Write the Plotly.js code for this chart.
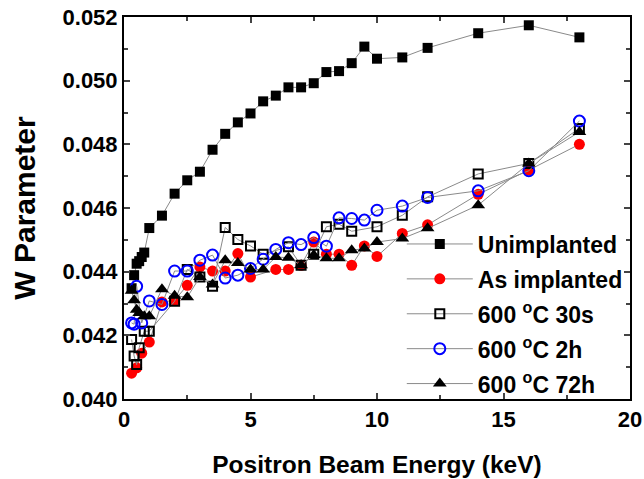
<!DOCTYPE html>
<html><head><meta charset="utf-8">
<script src="https://cdn.plot.ly/plotly-3.0.1.min.js"></script>
<style>body{margin:0;background:#fff}#c{width:644px;height:479px}</style>
</head><body><div id="c"></div>
<script>
const names = ["Unimplanted", "As implanted", "600 <sup>o</sup>C 30s", "600 <sup>o</sup>C 2h", "600 <sup>o</sup>C 72h"];

const xUnimp = [0.3,0.4,0.5,0.6,0.7,0.8,1,1.5,2,2.5,3,3.5,4,4.5,5,5.5,6,6.5,7,7.5,8,8.5,9,9.5,10,11,12,14,16,18];
const yUnimp = [0.04348,0.04389,0.04425,0.04433,0.04446,0.0446,0.04537,0.04576,0.04645,0.04687,0.04714,0.04783,0.04833,0.04869,0.04897,0.04935,0.04953,0.04979,0.04979,0.04992,0.05027,0.0503,0.05055,0.05107,0.05069,0.05073,0.05103,0.05149,0.05174,0.05136];

const xAsImp = [0.3,0.5,0.7,1,1.5,2,2.5,3,3.5,4,4.5,5,6,6.5,7,7.5,8,8.5,9,9.5,10,11,12,14,16,18];
const yAsImp = [0.04081,0.04098,0.04144,0.04179,0.04305,0.0431,0.04357,0.04415,0.04402,0.04402,0.04457,0.04383,0.04407,0.04407,0.0442,0.04493,0.04455,0.04455,0.0442,0.04481,0.04448,0.0452,0.04547,0.04643,0.04719,0.048];

const x30s = [0.3,0.4,0.5,0.6,0.8,1,2,2.5,3,3.5,4,4.5,5,5.5,6.5,7,7.5,8,8.5,9,10,11,12,14,16,18];
const y30s = [0.04187,0.04135,0.04108,0.04161,0.04213,0.04213,0.04307,0.04407,0.04383,0.04354,0.04539,0.04501,0.04481,0.04455,0.04478,0.0442,0.04455,0.04541,0.04549,0.04527,0.04541,0.04577,0.04635,0.04707,0.0474,0.0485];

const x2h = [0.3,0.4,0.5,0.7,1,1.5,2,2.5,3,3.5,4,4.5,5,5.5,6,6.5,7,7.5,8,8.5,9,9.5,10,11,12,14,16,18];
const y2h = [0.04239,0.04235,0.04354,0.04239,0.04308,0.04297,0.04402,0.04402,0.04436,0.04452,0.0438,0.04389,0.0441,0.04439,0.0447,0.04491,0.04485,0.04507,0.0448,0.04569,0.04567,0.04562,0.04593,0.04606,0.04633,0.04654,0.04717,0.04873];

const x72h = [0.3,0.4,0.5,0.6,0.8,1,1.5,2,2.5,3,3.5,4,4.5,5,5.5,6,6.5,7,7.5,8,8.5,9,9.5,10,11,12,14,16,18];
const y72h = [0.0434,0.0431,0.0428,0.0427,0.0426,0.0426,0.04345,0.04324,0.0432,0.04383,0.0436,0.04436,0.04427,0.04407,0.04407,0.04446,0.04444,0.0442,0.04452,0.04442,0.04442,0.04467,0.04473,0.04493,0.04504,0.04536,0.04609,0.0474,0.04839];

const lineStyle = {color:'#8a8a8a', width:1};
const traces = [
  {x:xUnimp, y:yUnimp, name:names[0], legendgroup:'a', mode:'lines+markers', line:lineStyle,
   marker:{symbol:'square', size:10, color:'#000'}},
  {x:xAsImp, y:yAsImp, name:names[1], legendgroup:'b', mode:'lines+markers', line:lineStyle,
   marker:{symbol:'circle', size:11, color:'#ff0000'}},
  {x:x30s, y:y30s, name:names[2], legendgroup:'c', mode:'lines+markers', line:lineStyle,
   marker:{symbol:'square-open', size:9, color:'#000', line:{width:2}}},
  {x:x2h, y:y2h, name:names[3], legendgroup:'d', mode:'lines+markers', line:lineStyle,
   marker:{symbol:'circle-open', size:11, color:'#0000ff', line:{width:2}}},
  {x:x72h, y:y72h, name:names[4], legendgroup:'e', mode:'lines+markers', line:lineStyle,
   marker:{symbol:'triangle-up', size:12, color:'#000'}}
];

const fam = '"Liberation Sans", Arial, sans-serif';
const layout = {
  width:644, height:479,
  margin:{l:124, r:14, t:17, b:80},
  paper_bgcolor:'#fff', plot_bgcolor:'#fff',
  showlegend:true,
  legend:{x:0.549, y:0.462, xanchor:'left', yanchor:'top', bgcolor:'rgba(0,0,0,0)',
    traceorder:'grouped', tracegroupgap:2, itemwidth:66,
    font:{family:fam, size:23, color:'#000', weight:'bold'}},
  xaxis:{range:[0,20], dtick:5, tick0:0, ticks:'inside', ticklen:6, tickwidth:2,
    showline:true, linewidth:2, linecolor:'#000', mirror:'allticks', showgrid:false, zeroline:false,
    minor:{dtick:2.5, ticks:'inside', ticklen:4, tickwidth:2, showgrid:false},
    tickfont:{family:fam, size:22, color:'#000', weight:'bold'},
    title:{text:'Positron Beam Energy (keV)', standoff:24, font:{family:fam, size:24.5, color:'#000', weight:'bold'}}},
  yaxis:{range:[0.040,0.052], dtick:0.002, tick0:0.04, tickformat:'.3f', ticks:'inside', ticklen:6, tickwidth:2,
    showline:true, linewidth:2, linecolor:'#000', mirror:'allticks', showgrid:false, zeroline:false,
    minor:{dtick:0.001, ticks:'inside', ticklen:4, tickwidth:2, showgrid:false},
    tickfont:{family:fam, size:22, color:'#000', weight:'bold'},
    title:{text:'W Parameter', standoff:18, font:{family:fam, size:30, color:'#000', weight:'bold'}}}
};
Plotly.newPlot('c', traces, layout, {displayModeBar:false, staticPlot:true});
</script>
</body></html>
